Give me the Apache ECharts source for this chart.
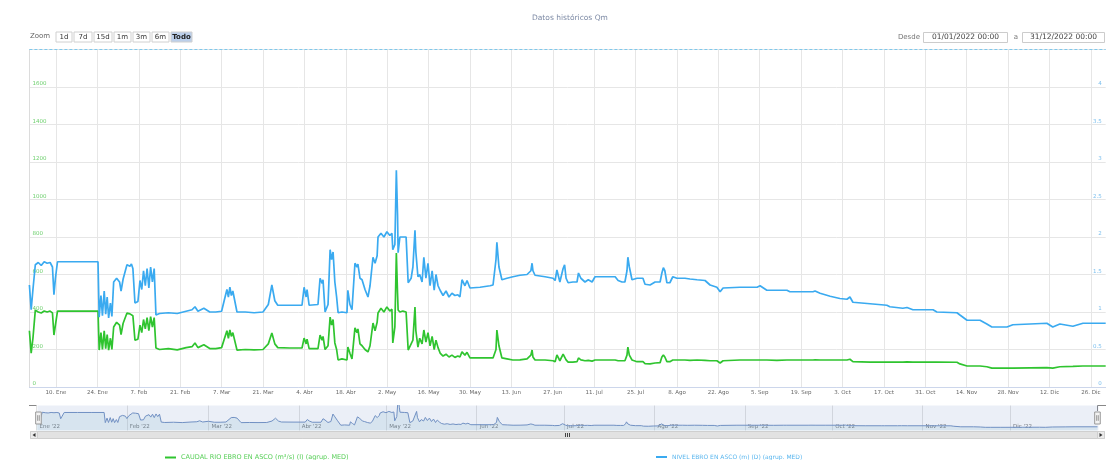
<!DOCTYPE html>
<html>
<head>
<meta charset="utf-8">
<script src="https://cdn.jsdelivr.net/npm/echarts@6/dist/echarts.min.js"></script>
<style>html,body{margin:0;padding:0;background:#fff;}#c{width:1106px;height:460px;}</style>
</head>
<body>
<div id="c"></div>
<script>
// x values are days since 01/01/2022 00:00
const tickDays = [9,23,37,51,65,79,93,107,121,135,149,163,177,191,205,219,233,247,261,275,289,303,317,331,345,359];
const tickLabels = ['10. Ene','24. Ene','7. Feb','21. Feb','7. Mar','21. Mar','4. Abr','18. Abr','2. May','16. May','30. May','13. Jun','27. Jun','11. Jul','25. Jul','8. Ago','22. Ago','5. Sep','19. Sep','3. Oct','17. Oct','31. Oct','14. Nov','28. Nov','12. Dic','26. Dic'];
const monthDays = [0,31,59,90,120,151,181,212,243,273,304,334];
const monthLabels = ["Ene '22","Feb '22","Mar '22","Abr '22","May '22","Jun '22","Jul '22","Ago '22","Sep '22","Oct '22","Nov '22","Dic '22"];
const caudalName = 'CAUDAL RIO EBRO EN ASCO (m³/s) (I) (agrup. MED)';
const nivelName = 'NIVEL EBRO EN ASCO (m) (D) (agrup. MED)';

const caudal = [
[0,300],[0.6,181],[1.2,260],[2,410],[3,400],[4,395],[5,405],[6,400],[7,405],[7.8,395],[8.3,277],[8.8,330],[9.5,405],[14,405],[19,405],[23.2,405],
[23.6,197],[24.2,290],[24.7,200],[25.3,300],[25.8,205],[26.3,280],[26.8,197],[27.4,260],[27.9,200],[28.5,320],[29.5,345],[30.5,330],[31,280],[31.7,340],[32.3,345],[33,395],[34,390],[34.5,400],[35,380],[35.7,250],[36.7,255],[37.4,330],[38,290],[38.6,360],[39.2,310],[39.8,370],[40.4,300],[41,375],[41.6,320],[42.2,370],[42.8,208],
[44,200],[47,205],[50,198],[53,210],[55,215],[56,235],[57,210],[59,225],[61,205],[63,205],[65,210],[66.8,300],[67.3,260],[67.8,304],[68.3,270],[68.8,290],[70.2,197],[73,200],[76,198],[79,200],[80.8,230],[82,288],[83,230],[84,210],[88,208],
[92.2,208],[92.9,261],[93.6,230],[93.9,255],[94.6,205],[97.6,205],[98.3,277],[99,250],[99.3,270],[100,200],[101,220],[101.7,373],[102.2,330],[102.7,360],[103.3,235],[103.9,200],[104.4,144],[105.7,150],[107.4,144],[107.7,213],[108.4,180],[109.1,150],[110.1,315],[110.8,290],[111.1,310],[111.8,230],[112.5,220],[113.5,200],[114.5,187],[115.2,220],[116.2,341],[116.9,300],[117.6,345],[117.9,395],[118.9,420],[119.9,400],[120.9,427],[121.9,405],[122.6,415],[122.9,235],[123.6,320],[124.1,715],[124.5,500],[124.7,411],[125.3,400],[126.3,405],[127.4,400],[128.1,197],[129.1,230],[129.7,250],[130.4,427],[130.7,300],[131.4,213],[132,260],[132.8,230],[133.4,304],[134.1,240],[134.8,290],[135.5,220],[136.2,270],[136.9,200],[137.5,250],[138.2,210],[138.9,181],[139.9,165],[140.9,175],[141.9,160],[142.9,170],[143.9,158],[144.9,165],[145.6,160],[146.3,187],[147.3,170],[148,185],[149,155],[152.4,155],[155.8,155],[156.8,155],[157.8,200],[158.1,304],[158.8,220],[159.8,155],[161.5,150],[163.5,144],[165.9,145],[168.3,150],[169.6,170],[170,197],[170.3,160],
[171,144],[172.7,144],[174.4,144],[177.1,140],[177.8,135],[178.4,171],[179.4,140],[180.5,175],[181,181],[181.5,145],[182.2,133],[183.8,133],[185.2,135],[185.7,155],[186.5,145],[187.9,140],[189,142],[190.3,138],[191.3,144],[194.7,144],[198.1,144],[199.1,140],[200.4,140],[201.4,140],[202.1,170],[202.4,213],[202.9,170],[203.8,144],[205.5,135],[207.5,135],[208.2,125],[209.9,123],[211.6,128],[213.3,130],[213.9,160],[214.4,171],[214.9,160],[215.6,135],[216.6,135],[217.6,144],[219,144],[221.7,144],[223.4,142],[225.8,144],[228.5,142],[230.2,140],[232.5,140],[233.6,128],[234.6,140],[240.3,144],[246.1,144],[247.1,144],[249.4,144],[252.8,142],[256.2,144],[257.2,144],[265,144],[265.7,145],[267.4,144],[270.8,144],[274.1,144],[276.5,144],[277.5,148],[278.5,135],[284.3,133],[290,133],[291,133],[295.4,133],[296.8,134],[298.8,133],[305.6,133],[306.9,133],[313.7,132],[314.7,123],[317.1,112],[321.5,112],[323.8,108],[325.5,101],[327.2,101],[330.6,101],[332.6,101],[338.4,102],[344.1,103],[346.1,101],[348.5,108],[352.9,110],[356.3,112],[360.4,112],[364,112]
];

const nivel = [
[0,1.36],[0.6,1.03],[1.2,1.3],[2,1.63],[3,1.66],[4,1.62],[5,1.67],[6,1.65],[7,1.66],[7.8,1.6],[8.3,1.23],[8.8,1.45],[9.5,1.67],[14,1.67],[19,1.67],[23.2,1.67],
[23.6,0.93],[24.2,1.22],[24.7,0.95],[25.3,1.28],[25.8,0.97],[26.3,1.2],[26.8,0.92],[27.4,1.12],[27.9,0.94],[28.5,1.4],[29.5,1.45],[30.5,1.4],[31,1.28],[31.7,1.44],[32.3,1.46],[33,1.63],[34,1.61],[34.5,1.64],[35,1.58],[35.7,1.12],[36.7,1.14],[37.4,1.42],[38,1.3],[38.6,1.55],[39.2,1.35],[39.8,1.58],[40.4,1.32],[41,1.6],[41.6,1.4],[42.2,1.58],[42.8,0.96],
[44,0.98],[47,0.99],[50,0.98],[53,1.01],[55,1.03],[56,1.07],[57,1.01],[59,1.05],[61,1.0],[63,1.0],[65,1.01],[66.8,1.3],[67.3,1.2],[67.8,1.33],[68.3,1.22],[68.8,1.28],[70.2,1.0],[73,1.0],[76,0.99],[79,1.0],[80.8,1.1],[82,1.36],[83,1.15],[84,1.09],[88,1.09],
[92.2,1.09],[92.9,1.33],[93.6,1.2],[93.9,1.3],[94.6,1.09],[97.6,1.1],[98.3,1.45],[99,1.38],[99.3,1.43],[100,1.0],[101,1.1],[101.7,1.83],[102.2,1.7],[102.7,1.8],[103.3,1.4],[103.9,1.2],[104.4,0.99],[105.7,1.0],[107.4,0.99],[107.7,1.29],[108.4,1.1],[109.1,1.03],[110.1,1.65],[110.8,1.6],[111.1,1.64],[111.8,1.45],[112.5,1.43],[113.5,1.3],[114.5,1.2],[115.2,1.35],[116.2,1.73],[116.9,1.65],[117.6,1.75],[117.9,2.0],[118.9,2.05],[119.9,2.0],[120.9,2.07],[121.9,2.02],[122.6,2.05],[122.9,1.83],[123.6,1.9],[124.1,2.89],[124.5,2.3],[124.7,1.79],[125.3,2.0],[126.3,2.0],[127.4,2.0],[128.1,1.39],[129.1,1.45],[129.7,1.6],[130.4,2.09],[130.7,1.8],[131.4,1.47],[132,1.5],[132.8,1.4],[133.4,1.73],[134.1,1.45],[134.8,1.65],[135.5,1.35],[136.2,1.55],[136.9,1.29],[137.5,1.5],[138.2,1.35],[138.9,1.29],[139.9,1.22],[140.9,1.28],[141.9,1.2],[142.9,1.25],[143.9,1.22],[144.9,1.23],[145.6,1.2],[146.3,1.43],[147.3,1.35],[148,1.42],[149,1.32],[152.4,1.33],[155.8,1.35],[156.8,1.36],[157.8,1.7],[158.1,1.93],[158.8,1.6],[159.8,1.43],[161.5,1.45],[163.5,1.47],[165.9,1.49],[168.3,1.5],[169.6,1.55],[170,1.65],[170.3,1.55],
[171,1.49],[172.7,1.48],[174.4,1.47],[177.1,1.45],[177.8,1.42],[178.4,1.56],[179.4,1.4],[180.5,1.58],[181,1.63],[181.5,1.45],[182.2,1.39],[183.8,1.4],[185.2,1.4],[185.7,1.52],[186.5,1.45],[187.9,1.4],[189,1.43],[190.3,1.4],[191.3,1.47],[194.7,1.47],[198.1,1.47],[199.1,1.42],[200.4,1.4],[201.4,1.4],[202.1,1.55],[202.4,1.73],[202.9,1.6],[203.8,1.43],[205.5,1.45],[207.5,1.45],[208.2,1.37],[209.9,1.36],[211.6,1.4],[213.3,1.4],[213.9,1.52],[214.4,1.59],[214.9,1.55],[215.6,1.39],[216.6,1.39],[217.6,1.47],[219,1.45],[221.7,1.45],[223.4,1.44],[225.8,1.43],[228.5,1.42],[230.2,1.36],[232.5,1.33],[233.6,1.27],[234.6,1.32],[240.3,1.33],[246.1,1.33],[247.1,1.35],[249.4,1.29],[252.8,1.29],[256.2,1.29],[257.2,1.27],[265,1.27],[265.7,1.28],[267.4,1.25],[270.8,1.21],[274.1,1.18],[276.5,1.17],[277.5,1.2],[278.5,1.13],[284.3,1.11],[290,1.09],[291,1.07],[295.4,1.05],[296.8,1.06],[298.8,1.03],[305.6,1.03],[306.9,1.0],[313.7,0.99],[314.7,0.96],[317.1,0.89],[321.5,0.89],[323.8,0.84],[325.5,0.8],[327.2,0.8],[330.6,0.8],[332.6,0.83],[338.4,0.84],[344.1,0.85],[346.1,0.8],[348.5,0.84],[352.9,0.81],[356.3,0.85],[360.4,0.85],[364,0.85]
];

const zoomButtons = ['1d','7d','15d','1m','3m','6m','Todo'];
const dateFrom = '01/01/2022 00:00';
const dateTo = '31/12/2022 00:00';

const FONT = 'DejaVu Sans, Verdana, sans-serif';
const GREEN = '#2fc42f';
const BLUE = '#3aaaf0';

const chart = echarts.init(document.getElementById('c'), null, {renderer: 'canvas'});

const btnX = [56, 74, 94, 114, 133, 152, 171];
const btnW = [16, 18, 18, 17, 17, 17, 21];
const graphics = [];
graphics.push({type:'text', left: 30, top: 33, style:{text:'Zoom', fill:'#666', font: '7px ' + FONT}});
zoomButtons.forEach((b, i) => {
  const sel = b === 'Todo';
  graphics.push({type:'rect', shape:{x: btnX[i], y: 32, width: btnW[i], height: 10}, style:{fill: sel ? '#bccfea' : '#fff', stroke: '#d0d0d0', lineWidth: 1}});
  graphics.push({type:'text', x: btnX[i] + btnW[i] / 2, y: 37, style:{text: b, fill: sel ? '#222' : '#333', font: (sel ? 'bold ' : '') + '7px ' + FONT, align:'center', verticalAlign:'middle'}});
});
graphics.push({type:'text', x: 920, y: 37.5, style:{text:'Desde', fill:'#777', font:'7px ' + FONT, align:'right', verticalAlign:'middle'}});
graphics.push({type:'rect', shape:{x: 923.5, y: 32.5, width: 84, height: 10}, style:{fill:'#fff', stroke:'#ccc', lineWidth:1}});
graphics.push({type:'text', x: 965.5, y: 37.5, style:{text: dateFrom, fill:'#444', font:'7.5px ' + FONT, align:'center', verticalAlign:'middle'}});
graphics.push({type:'text', x: 1016, y: 37.5, style:{text:'a', fill:'#777', font:'7px ' + FONT, align:'center', verticalAlign:'middle'}});
graphics.push({type:'rect', shape:{x: 1022.5, y: 32.5, width: 82, height: 10}, style:{fill:'#fff', stroke:'#ccc', lineWidth:1}});
graphics.push({type:'text', x: 1063.5, y: 37.5, style:{text: dateTo, fill:'#444', font:'7.5px ' + FONT, align:'center', verticalAlign:'middle'}});
// navigator outline
graphics.push({type:'polyline', shape:{points:[[29,405.5],[36.5,405.5],[36.5,411]]}, style:{stroke:'#888', lineWidth:1, fill:null}});
graphics.push({type:'polyline', shape:{points:[[1097.5,411],[1097.5,405.5],[1106,405.5]]}, style:{stroke:'#888', lineWidth:1, fill:null}});
// scrollbar
graphics.push({type:'rect', shape:{x: 30.5, y: 431.5, width: 1074, height: 7}, style:{fill:'#f0f0f0', stroke:'#d6d6d6', lineWidth:1}});
graphics.push({type:'rect', shape:{x: 37.5, y: 431.5, width: 1060, height: 7}, style:{fill:'#e2e2e2', stroke:'#cfcfcf', lineWidth:1}});
graphics.push({type:'rect', shape:{x: 30.5, y: 431.5, width: 7, height: 7}, style:{fill:'#ebebeb', stroke:'#cfcfcf', lineWidth:1}});
graphics.push({type:'rect', shape:{x: 1097.5, y: 431.5, width: 7, height: 7}, style:{fill:'#ebebeb', stroke:'#cfcfcf', lineWidth:1}});
graphics.push({type:'polygon', shape:{points:[[35.5,433],[35.5,437],[32.5,435]]}, style:{fill:'#333'}});
graphics.push({type:'polygon', shape:{points:[[1099.5,433],[1099.5,437],[1102.5,435]]}, style:{fill:'#333'}});
[565.5, 567.5, 569.5].forEach(x => graphics.push({type:'line', shape:{x1:x, y1:433, x2:x, y2:437}, style:{stroke:'#444', lineWidth:1}}));

const option = {
  animation: false,
  backgroundColor: '#fff',
  textStyle: {fontFamily: FONT},
  title: {text: 'Datos históricos Qm', left: 527, top: 9, textStyle: {color: '#7d8aa5', fontSize: 7.5, fontWeight: 'normal', fontFamily: FONT}},
  legend: [
    {data: [caudalName], left: 160, top: 449, icon: 'rect', itemWidth: 11, itemHeight: 2, itemGap: 4, textStyle: {color: '#58cf58', fontSize: 6.5, fontFamily: FONT}},
    {data: [nivelName], left: 651, top: 449, icon: 'rect', itemWidth: 11, itemHeight: 2, itemGap: 4, textStyle: {color: '#5ab6ee', fontSize: 6, fontFamily: FONT}}
  ],
  grid: [
    {left: 29.4, right: 0.3, top: 49.5, bottom: 73},
    {left: 36.5, right: 8.5, top: 405.5, height: 25}
  ],
  xAxis: [
    {type: 'value', gridIndex: 0, min: 0, max: 364,
     axisLine: {show: true, lineStyle: {color: '#ccd6eb'}},
     axisTick: {show: false, customValues: tickDays},
     axisLabel: {customValues: tickDays, formatter: v => tickLabels[tickDays.indexOf(v)], color: '#666', fontSize: 5.5, margin: 3, fontFamily: FONT},
     splitLine: {show: true, lineStyle: {color: '#e6e6e6', width: 1}}},
    {type: 'value', gridIndex: 1, min: 0, max: 364,
     axisLine: {show: false},
     axisTick: {show: false, customValues: monthDays},
     axisLabel: {customValues: monthDays, inside: true, formatter: v => monthLabels[monthDays.indexOf(v)], align: 'left', padding: [0, 0, 0, 3], margin: 1, color: '#777', fontSize: 5.5, fontFamily: FONT},
     splitLine: {show: true, lineStyle: {color: '#e2e2e2', width: 1}}}
  ],
  yAxis: [
    {type: 'value', gridIndex: 0, min: 0, max: 1800, interval: 200, position: 'left',
     axisLine: {show: true, lineStyle: {color: '#dcdcdc'}}, axisTick: {show: false},
     axisLabel: {inside: true, margin: 3, showMaxLabel: false, verticalAlign: 'bottom', formatter: v => String(v), color: '#6fd06f', fontSize: 5.5, fontFamily: FONT},
     splitLine: {show: true, lineStyle: {color: '#e6e6e6', width: 1}}},
    {type: 'value', gridIndex: 0, min: 0, max: 4.5, interval: 0.5, position: 'right',
     axisLine: {show: false}, axisTick: {show: false},
     axisLabel: {inside: true, margin: 4, showMaxLabel: false, verticalAlign: 'bottom', formatter: v => String(v), color: '#7ec0ee', fontSize: 5.5, fontFamily: FONT},
     splitLine: {show: false}},
    {type: 'value', gridIndex: 1, min: 36, max: 548, show: false, splitLine: {show: false}}
  ],
  dataZoom: [{
    type: 'slider', xAxisIndex: 0, filterMode: 'none', start: 0, end: 100,
    left: 36.5, right: 8.5, top: 405.5, height: 25,
    showDataShadow: false, showDetail: false, brushSelect: false,
    backgroundColor: 'rgba(0,0,0,0)', borderColor: 'rgba(0,0,0,0)',
    fillerColor: 'rgba(102,133,194,0.13)',
    handleIcon: 'path://M0,0 h7 v15 h-7 Z M2.5,4 v7 M4.5,4 v7',
    handleSize: 12,
    handleStyle: {color: '#f2f2f2', borderColor: '#999', borderWidth: 1},
    moveHandleSize: 0
  }],
  series: [
    {name: caudalName, type: 'line', xAxisIndex: 0, yAxisIndex: 0, data: caudal, showSymbol: false, symbol: 'none',
     color: GREEN, lineStyle: {width: 1.7, color: GREEN}, z: 3},
    {name: nivelName, type: 'line', xAxisIndex: 0, yAxisIndex: 1, data: nivel, showSymbol: false, symbol: 'none',
     color: BLUE, lineStyle: {width: 1.7, color: BLUE}, z: 3,
     markLine: {silent: true, symbol: 'none', label: {show: false}, lineStyle: {type: [3, 2], color: '#7fc8ec', width: 1}, data: [{yAxis: 4.5}]}},
    {name: 'nav', type: 'line', xAxisIndex: 1, yAxisIndex: 2, data: caudal, showSymbol: false, symbol: 'none', silent: true,
     lineStyle: {width: 1, color: '#7393c4'}, areaStyle: {color: 'rgba(130,185,205,0.25)'}, z: 2}
  ],
  graphic: graphics
};
chart.setOption(option);
</script>
</body>
</html>
